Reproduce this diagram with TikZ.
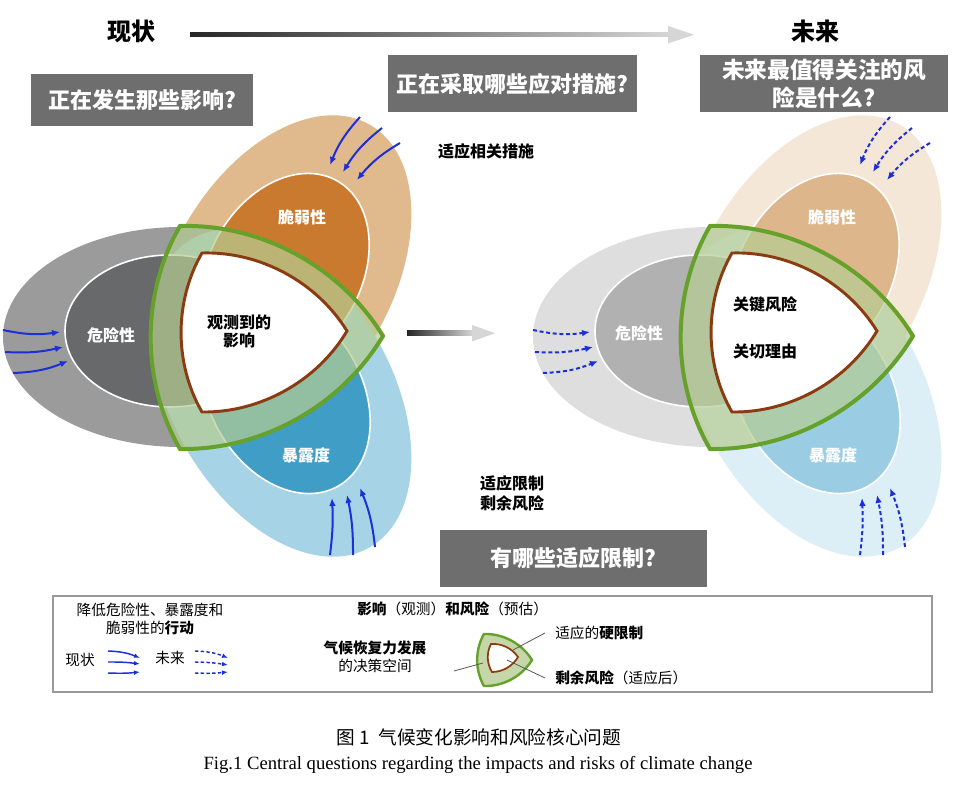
\documentclass[tikz,border=0pt]{standalone}
\usepackage{fontspec}
\setmainfont{Liberation Serif}
\newfontfamily\cjk{Noto Sans CJK SC}
\usetikzlibrary{arrows.meta}
\definecolor{gOut}{HTML}{9B9B9B}\definecolor{gIn}{HTML}{67696B}
\definecolor{tOut}{HTML}{E0B98D}\definecolor{tIn}{HTML}{C97A2E}
\definecolor{bOut}{HTML}{A6D3E5}\definecolor{bIn}{HTML}{3F9DC6}
\definecolor{gOutB}{HTML}{DEDEDE}\definecolor{gInB}{HTML}{B1B1B1}
\definecolor{tOutB}{HTML}{F4E7D7}\definecolor{tInB}{HTML}{DDB68C}
\definecolor{bOutB}{HTML}{DCEEF6}\definecolor{bInB}{HTML}{9ACDE4}
\definecolor{bandc}{HTML}{B6CD92}\definecolor{greenb}{HTML}{65A12B}
\definecolor{brownb}{HTML}{8B3B12}\definecolor{qgray}{HTML}{6E6E6E}
\definecolor{arrblue}{HTML}{1D2FD6}\definecolor{headgray}{HTML}{D6D6D6}
\tikzset{
  rl/.style={bend left=30, looseness=0.9},
  ttl/.style={font=\cjk\bfseries\fontsize{18}{22}\selectfont, inner sep=0pt},
  boxq/.style={font=\cjk\bfseries\fontsize{16.5}{22}\selectfont, text=white, inner sep=0pt, align=center},
  inlbl/.style={font=\cjk\bfseries\fontsize{12}{14}\selectfont, text=white, inner sep=0pt},
  blk/.style={font=\cjk\bfseries\fontsize{12}{17}\selectfont, inner sep=0pt, align=center},
  leg/.style={font=\cjk\fontsize{11}{14}\selectfont, inner sep=0pt},
  flow/.style={arrblue, line width=1.5pt, -{Latex[length=6pt,width=5pt]}},
  flowd/.style={flow, dash pattern=on 3pt off 2pt},
  lflow/.style={arrblue, line width=1.1pt, -{Latex[length=4.5pt,width=3.5pt]}},
  lflowd/.style={lflow, dash pattern=on 2.5pt off 1.8pt},
  inell/.style={draw=white, line width=1.2pt},
  ptr/.style={draw=black!65, line width=0.6pt}
}
\newcommand\mydrawset[8]{%
\begin{scope}[shift={(#1,0)}]
  \fill[#4, rotate around={60:(281,279)}] (281,279) ellipse [x radius=178, y radius=110];
  \fill[#2] (181,337) ellipse [x radius=178, y radius=110];
  \fill[#6, rotate around={-60:(281,393)}] (281,393) ellipse [x radius=178, y radius=110];
  \filldraw[fill=#5, inell, rotate around={60:(285,272)}] (285,272) ellipse [x radius=105, y radius=76];
  \filldraw[fill=#3, inell] (170,331) ellipse [x radius=105, y radius=76];
  \filldraw[fill=#7, inell, rotate around={-60:(286,395)}] (286,395) ellipse [x radius=105, y radius=76];
  \fill[bandc, fill opacity=0.7] (180,226) to[rl] (383,336) to[rl] (180,449) to[rl] cycle;
  \filldraw[fill=white, draw=brownb, line width=2.2pt] (202,253) to[rl] (347,331) to[rl] (202,412) to[rl] cycle;
  \draw[greenb, line width=3pt, line join=miter] (180,226) to[rl] (383,336) to[rl] (180,449) to[rl] cycle;
  \draw[#8] (3,330) to[bend right=10] (60,332);
  \draw[#8] (5,352) to[bend right=8] (63,347);
  \draw[#8] (13,373) to[bend right=10] (68,361);
  \draw[#8] (360,117) to[bend right=10] (330,165);
  \draw[#8] (382,128) to[bend right=10] (343,172);
  \draw[#8] (400,143) to[bend right=10] (357,180);
  \draw[#8] (330,555) to[bend right=5] (332,498);
  \draw[#8] (353,555) to[bend right=6] (347,495);
  \draw[#8] (375,547) to[bend right=8] (360,488);
\end{scope}}
\begin{document}
\begin{tikzpicture}[x=0.75pt,y=-0.75pt]
\useasboundingbox (0,0) rectangle (976,788);
\fill[white] (0,0) rectangle (976,788);

% top timeline
\node[ttl] (now) at (131,31) {现状};
\node[ttl] (fut) at (815,31) {未来};
\shade[left color=black!85, right color=headgray] (190,32.5) rectangle (670,37);
\fill[headgray] (668,26) -- (694,34.7) -- (668,43.5) -- cycle;

% question boxes
\fill[qgray] (31,74) rectangle (253,126);
\node[boxq] (q1) at (142,100) {正在发生那些影响?};
\fill[qgray] (388,55) rectangle (637,112);
\node[boxq] (q2) at (512,84) {正在采取哪些应对措施?};
\fill[qgray] (700,55) rectangle (948,112);
\node[boxq, font=\cjk\bfseries\fontsize{17}{21}\selectfont] (q3) at (824,84) {未来最值得关注的风\\险是什么?};

% sets
\mydrawset{0}{gOut}{gIn}{tOut}{tIn}{bOut}{bIn}{flow}
\mydrawset{530}{gOutB}{gInB}{tOutB}{tInB}{bOutB}{bInB}{flowd}

% middle arrow
\shade[left color=black!85, right color=headgray] (407,331) rectangle (473,335.5);
\fill[headgray] (472,325) -- (495,333.2) -- (472,341.5) -- cycle;

% labels in sets
\node[inlbl] (h1) at (111,335) {危险性};
\node[inlbl] (v1) at (302,217) {脆弱性};
\node[inlbl] (e1) at (306,455) {暴露度};
\node[blk, font=\cjk\bfseries\fontsize{12}{13.5}\selectfont] (obs) at (239,331) {观测到的\\影响};
\node[inlbl] (h2) at (639,333) {危险性};
\node[inlbl] (v2) at (832,217) {脆弱性};
\node[inlbl] (e2) at (833,455) {暴露度};
\node[blk] (kr) at (765,304) {关键风险};
\node[blk] (rc) at (765,351) {关切理由};

% side texts
\node[blk] (m1) at (486,151) {适应相关措施};
\node[blk, align=left, font=\cjk\bfseries\fontsize{12}{15}\selectfont] (m2) at (512,493) {适应限制\\剩余风险};
\fill[qgray] (440,530) rectangle (707,587);
\node[boxq] (q4) at (573,558) {有哪些适应限制?};

% legend
\draw[black!40, line width=1.1pt, fill=white] (53,596) rectangle (932,692);
\node[leg] (l1) at (150,610) {降低危险性、暴露度和};
\node[leg] (l2) at (150,628) {脆弱性的\bfseries 行动};
\node[leg] (l3) at (80,660) {现状};
\node[leg] (l4) at (170,658) {未来};
\draw[lflow] (108,651) to[bend left=10] (140,658);
\draw[lflow] (108,662) to[bend left=4] (140,664);
\draw[lflow] (108,673) to[bend right=4] (140,672);
\draw[lflowd] (195,651) to[bend left=10] (228,658);
\draw[lflowd] (195,662) to[bend left=4] (228,665);
\draw[lflowd] (195,673) to[bend right=4] (228,672);
\node[leg, anchor=west] (l5) at (357,609) {{\bfseries 影响}（观测）{\bfseries 和风险}（预估）};
\node[leg, font=\cjk\bfseries\fontsize{11}{14}\selectfont] (l6) at (375,648) {气候恢复力发展};
\node[leg] (l7) at (375,666) {的决策空间};
\fill[bandc!80!white] (484,634) to[rl] (532,660) to[rl] (484,686) to[rl] cycle;
\filldraw[fill=white, draw=brownb, line width=1.3pt] (491,644) to[rl] (518,657) to[rl] (492,672) to[rl] cycle;
\draw[greenb, line width=1.8pt] (484,634) to[rl] (532,660) to[rl] (484,686) to[rl] cycle;
\coordinate (p1) at (483,663);
\coordinate (p2) at (513,650);
\coordinate (p3) at (507,660);
\draw[ptr] (454,671) -- (p1);
\draw[ptr] (p2) -- (545,633);
\draw[ptr] (p3) -- (545,678);
\node[leg, anchor=west] (l8) at (555,633) {适应的{\bfseries 硬限制}};
\node[leg, anchor=west] (l9) at (555,678) {{\bfseries 剩余风险}（适应后）};

% caption
\node[font=\cjk\fontsize{14}{16}\selectfont, inner sep=0pt] (cap1) at (479,737) {图 1\ \ 气候变化影响和风险核心问题};
\node[font=\fontsize{14}{16}\selectfont, inner sep=0pt] (cap2) at (478,765) {Fig.1 Central questions regarding the impacts and risks of climate change};
\end{tikzpicture}
\end{document}
